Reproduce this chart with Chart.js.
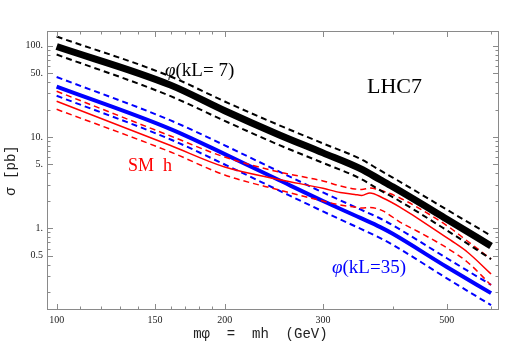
<!DOCTYPE html>
<html>
<head>
<meta charset="utf-8">
<script src="https://cdn.jsdelivr.net/npm/chart.js@4.4.1/dist/chart.umd.min.js"></script>
<style>
  body { margin: 0; background: #fff; }
</style>
</head>
<body>
<canvas id="xsecChart" width="518" height="347"></canvas>
<script>
// masses in GeV
const massGrid = [100, 160, 200, 250, 300, 350, 380, 400, 500, 600];
const massGridSM = [100, 160, 200, 250, 300, 322, 342, 352, 364, 384, 412, 442, 480, 507, 544, 600];

// cross sections in pb
const phi7Central = [98, 37, 19.4, 10.6, 6.7, 4.5, 3.4, 2.85, 1.26, 0.64];
const phi7Upper = [126, 46, 24.5, 13.5, 8.5, 5.75, 4.3, 3.6, 1.6, 0.83];
const phi7Lower = [80, 28, 15, 8.2, 5.2, 3.5, 2.6, 2.2, 0.95, 0.46];

const phi35Central = [35.6, 12.2, 6.5, 3.38, 1.99, 1.30, 1.03, 0.87, 0.377, 0.195];
const phi35Upper = [45.4, 15.2, 8.1, 4.2, 2.47, 1.61, 1.28, 1.08, 0.47, 0.24];
const phi35Lower = [28.3, 9.4, 5.0, 2.6, 1.53, 0.99, 0.78, 0.66, 0.283, 0.144];

const smCentral = [24.6, 8.06, 4.69, 3.43, 2.74, 2.47, 2.35, 2.29, 2.44, 2.15, 1.71, 1.30, 0.934, 0.745, 0.55, 0.316];
const smUpper = [31.7, 10.25, 6.03, 4.14, 3.30, 2.91, 2.70, 2.66, 2.76, 2.56, 2.15, 1.71, 1.26, 1.01, 0.726, 0.461];
const smLower = [20.1, 6.85, 3.84, 2.63, 1.99, 1.80, 1.71, 1.67, 1.69, 1.55, 1.17, 0.934, 0.708, 0.578, 0.428, 0.239];

// axis ticks
const xTickValues = [100, 150, 200, 300, 500];
const xTickLabels = ['100', '150', '200', '300', '500'];
const xMinorTicks = [110, 120, 130, 140, 160, 170, 180, 190, 400, 600];
const yTickValues = [0.5, 1, 5, 10, 50, 100];
const yTickLabels = ['0.5', '1.', '5.', '10.', '50.', '100.'];

function points(xs, ys) {
    return xs.map(function (m, i) { return { x: m, y: ys[i] }; });
}

function line(xs, ys, color, width, dashed) {
    return {
        data: points(xs, ys),
        borderColor: color,
        borderWidth: width,
        borderDash: dashed ? [6, 4] : [],
        pointRadius: 0,
        fill: false,
        cubicInterpolationMode: 'monotone'
    };
}

function yMinorTicks(min, max) {
    const out = [];
    for (let e = -1; e <= 2; e++) {
        for (let m = 1; m <= 9; m++) {
            const v = +(m * Math.pow(10, e)).toPrecision(3);
            if (v > min && v < max && yTickValues.indexOf(v) < 0) out.push(v);
        }
    }
    return out;
}

// frame with inward ticks on all four sides, like the original
const frameTicks = {
    id: 'frameTicks',
    afterDatasetsDraw(chart) {
        const { ctx, chartArea: a, scales: { x, y } } = chart;
        ctx.save();
        ctx.strokeStyle = '#8a8a8a';
        ctx.lineWidth = 1;
        ctx.strokeRect(a.left + 0.5, a.top + 0.5, a.right - a.left - 1, a.bottom - a.top - 1);
        ctx.beginPath();
        function xt(v, len) {
            const px = Math.round(x.getPixelForValue(v)) + 0.5;
            ctx.moveTo(px, a.bottom); ctx.lineTo(px, a.bottom - len);
            ctx.moveTo(px, a.top); ctx.lineTo(px, a.top + len);
        }
        function yt(v, len) {
            const py = Math.round(y.getPixelForValue(v)) + 0.5;
            ctx.moveTo(a.left, py); ctx.lineTo(a.left + len, py);
            ctx.moveTo(a.right, py); ctx.lineTo(a.right - len, py);
        }
        xTickValues.forEach(v => xt(v, 6));
        xMinorTicks.forEach(v => xt(v, 3.5));
        yTickValues.forEach(v => yt(v, 6));
        yMinorTicks(y.min, y.max).forEach(v => yt(v, 3.5));
        ctx.stroke();
        ctx.restore();
    }
};

function phiLabel(ctx, rest, x, y, color, size) {
    ctx.fillStyle = color;
    ctx.font = 'italic ' + size + 'px "Liberation Serif"';
    ctx.fillText('φ', x, y);
    const w = ctx.measureText('φ').width;
    ctx.font = size + 'px "Liberation Serif"';
    ctx.fillText(rest, x + w, y);
}

const curveLabels = {
    id: 'curveLabels',
    afterDraw(chart) {
        const ctx = chart.ctx;
        ctx.save();
        ctx.textAlign = 'left';
        ctx.textBaseline = 'alphabetic';
        phiLabel(ctx, '(kL= 7)', 165, 76, '#000', 19);
        phiLabel(ctx, '(kL=35)', 332, 273, '#0000ff', 19);
        ctx.fillStyle = '#000';
        ctx.font = '22px "Liberation Serif"';
        ctx.fillText('LHC7', 367, 93);
        ctx.fillStyle = '#ff0000';
        ctx.font = '18px "Liberation Serif"';
        ctx.fillText('SM  h', 128, 171);
        ctx.restore();
    }
};

const tickFont = { family: 'Liberation Serif', size: 10 };
const titleFont = { family: 'Liberation Mono', size: 14 };

new Chart(document.getElementById('xsecChart'), {
    type: 'line',
    data: {
        datasets: [
            line(massGrid, phi7Upper, '#000000', 2, true),
            line(massGrid, phi7Lower, '#000000', 2, true),
            line(massGrid, phi7Central, '#000000', 7, false),
            line(massGridSM, smUpper, '#ff0000', 1.5, true),
            line(massGridSM, smLower, '#ff0000', 1.5, true),
            line(massGridSM, smCentral, '#ff0000', 1.5, false),
            line(massGrid, phi35Upper, '#0000ff', 2, true),
            line(massGrid, phi35Lower, '#0000ff', 2, true),
            line(massGrid, phi35Central, '#0000ff', 4, false)
        ]
    },
    options: {
        responsive: false,
        animation: false,
        layout: { padding: { top: 31, right: 19, left: 0, bottom: 0 } },
        plugins: {
            legend: { display: false },
            tooltip: { enabled: false }
        },
        scales: {
            x: {
                type: 'logarithmic',
                min: 96.1,
                max: 620,
                bounds: 'data',
                grid: { display: false, drawTicks: false },
                border: { display: false },
                afterBuildTicks: function (s) { s.ticks = xTickValues.map(v => ({ value: v })); },
                afterFit: function (s) { s.height = 37; },
                ticks: {
                    autoSkip: false,
                    maxRotation: 0,
                    padding: 4,
                    color: '#222',
                    font: tickFont,
                    callback: v => xTickLabels[xTickValues.indexOf(v)]
                },
                title: {
                    display: true,
                    text: 'mφ  =  mh  (GeV)   ',
                    color: '#222',
                    font: titleFont,
                    padding: { top: 0, bottom: 4 }
                }
            },
            y: {
                type: 'logarithmic',
                min: 0.1274,
                max: 144.9,
                bounds: 'data',
                grid: { display: false, drawTicks: false },
                border: { display: false },
                afterBuildTicks: function (s) { s.ticks = yTickValues.map(v => ({ value: v })); },
                afterFit: function (s) { s.width = 47; },
                ticks: {
                    autoSkip: false,
                    padding: 4,
                    color: '#222',
                    font: tickFont,
                    callback: v => yTickLabels[yTickValues.indexOf(v)]
                },
                title: {
                    display: true,
                    text: 'σ [pb]',
                    color: '#222',
                    font: titleFont,
                    padding: { top: 3, bottom: 0 }
                }
            }
        }
    },
    plugins: [frameTicks, curveLabels]
});
</script>
</body>
</html>
